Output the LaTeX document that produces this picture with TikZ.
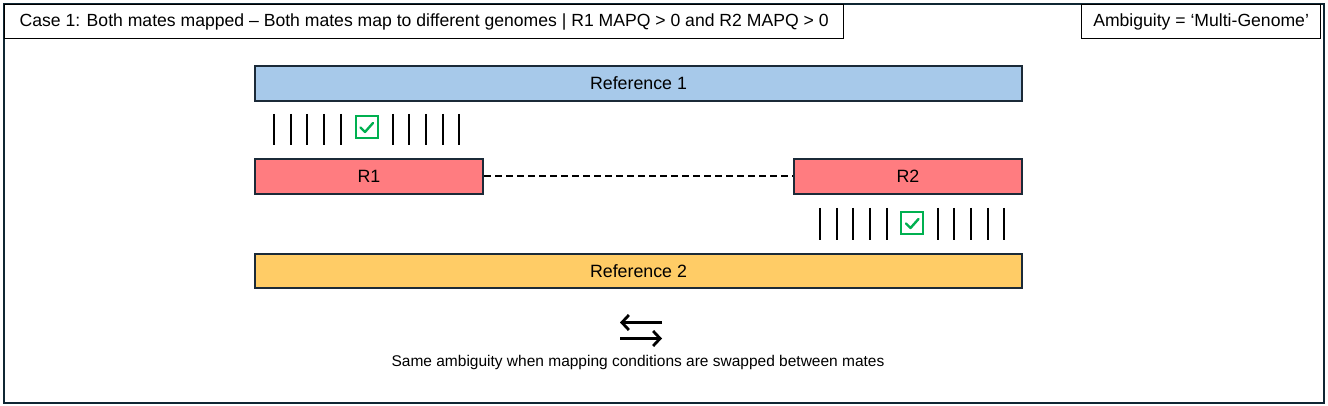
\documentclass[tikz,border=0pt]{standalone}
\usepackage{fontspec}
\setmainfont{Liberation Sans}
\usetikzlibrary{arrows.meta}
\definecolor{frame}{HTML}{0F2633}
\definecolor{edge}{HTML}{1B2A38}
\definecolor{refone}{HTML}{A7C9EA}
\definecolor{reftwo}{HTML}{FFCC66}
\definecolor{mate}{HTML}{FF7C80}
\definecolor{okgreen}{HTML}{00B050}
\tikzset{
    bar/.style={draw=edge,line width=2pt,anchor=north west,inner sep=0pt,font=\fontsize{17.8}{20}\selectfont},
    tag/.style={draw=black,line width=1.2pt,anchor=north west,inner sep=0pt,font=\fontsize{17.6}{20}\selectfont},
    okbox/.style={draw=okgreen,line width=2pt,minimum size=22pt,inner sep=0pt}
}
\begin{document}
\begin{tikzpicture}[x=1pt,y=-1pt,>=stealth]
    \useasboundingbox (0,0) rectangle (1328,406);
    \draw[frame,line width=2.5pt](4,4) rectangle (1324,403);
    \node[tag,minimum width=839pt,minimum height=34pt](title) at (4,4)
        {Case 1: Both mates mapped -- Both mates map to different genomes | R1 MAPQ > 0 and R2 MAPQ > 0};
    \node[tag,minimum width=239pt,minimum height=34pt](amb) at (1081,4) {Ambiguity = ‘Multi-Genome’};
    \node[bar,fill=refone,minimum width=767pt,minimum height=35pt](ref1) at (254,65) {Reference 1};
    \node[bar,fill=mate,minimum width=228pt,minimum height=35pt](r1) at (254,158) {R1};
    \node[bar,fill=mate,minimum width=228pt,minimum height=35pt](r2) at (793,158) {R2};
    \node[bar,fill=reftwo,minimum width=767pt,minimum height=34pt](ref2) at (254,253) {Reference 2};
    \draw[line width=2pt,dash pattern=on 6.5pt off 4.5pt](r1.east)--(r2.west);
    % ticks around the check boxes
    \foreach \x in {274,290.7,307.3,324,340.7,392.7,409.3,426,442.7,459.3}
    {
        \draw[line width=2pt](\x,114)--(\x,145);
    }
    \foreach \x in {820,836.7,853.3,870,886.7,937.7,954.3,971,987.7,1004.3}
    {
        \draw[line width=2pt](\x,208)--(\x,240);
    }
    \foreach \n/\x/\y in {ok1/366.5/127.5, ok2/912/223.5}
    {
        \node[okbox](\n) at (\x,\y) {};
        \draw[okgreen,line width=2.4pt,line cap=round,line join=round]
            ([shift={(-6,0)}]\n.center)--([shift={(-1.5,4.5)}]\n.center)--([shift={(6.5,-4.5)}]\n.center);
    }
    \coordinate (sw1) at (620,322.5);
    \coordinate (sw2) at (662,322.5);
    \coordinate (sw3) at (620,338.5);
    \coordinate (sw4) at (662,338.5);
    \draw[line width=2.8pt,-{Straight Barb[length=7pt,width=15pt]}](sw2)--(sw1);
    \draw[line width=2.8pt,-{Straight Barb[length=7pt,width=15pt]}](sw3)--(sw4);
    \node[font=\fontsize{15.5}{18}\selectfont](note) at (638,362)
        {Same ambiguity when mapping conditions are swapped between mates};
\end{tikzpicture}
\end{document}
